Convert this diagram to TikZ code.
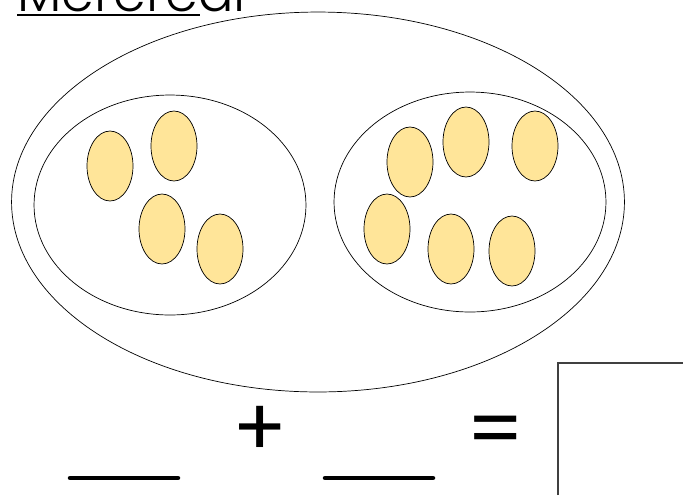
\documentclass[tikz,border=0pt]{standalone}
\usepackage{fontspec}
\setmainfont{Poppins}
\usepackage{tikz}
\usetikzlibrary{shapes.geometric}

\definecolor{eggfill}{HTML}{FFE599}

\tikzset{
    egg/.style={draw, ellipse, fill=eggfill, inner sep=0pt,
        minimum width=0.92cm, minimum height=1.4cm},
    group/.style={draw, ellipse, inner sep=0pt,
        minimum width=5.44cm, minimum height=4.4cm},
    blank/.style={line width=0.09cm, line cap=round}
}

\begin{document}
\begin{tikzpicture}[x=0.02cm, y=-0.02cm]
    \useasboundingbox (0, 0) rectangle (683, 495);

    \node[anchor=base west, font=\fontsize{30}{30}\selectfont\fontspec{Poppins Light}, inner sep=0pt]
        at (17, 11) (title) {Merereal};
    \draw[line width=0.03cm] (17, 15) -- (200, 15);

    \node[draw, ellipse, inner sep=0pt, minimum width=12.26cm, minimum height=7.6cm]
        at (318, 202) (all) {};
    \node[group] at (170, 205) (left) {};
    \node[group] at (470, 202) (right) {};

    \node[egg] at (110, 166) (a1) {};
    \node[egg] at (174, 146) (a2) {};
    \node[egg] at (162, 229) (a3) {};
    \node[egg] at (220, 249) (a4) {};

    \node[egg] at (410, 162) (b1) {};
    \node[egg] at (466, 142) (b2) {};
    \node[egg] at (535, 146) (b3) {};
    \node[egg] at (387, 229) (b4) {};
    \node[egg] at (451, 249) (b5) {};
    \node[egg] at (512, 251) (b6) {};

    \draw[blank] (70, 478) -- (178, 478);
    \draw[blank] (325, 478) -- (433, 478);
    \node[font=\fontsize{46}{46}\selectfont] at (260, 431) (plus) {+};
    \node[font=\fontsize{46}{46}\selectfont] at (496, 437) (equals) {=};

    \draw[line width=0.04cm, black!75] (558, 495) -- (558, 363) -- (683, 363);
\end{tikzpicture}
\end{document}
